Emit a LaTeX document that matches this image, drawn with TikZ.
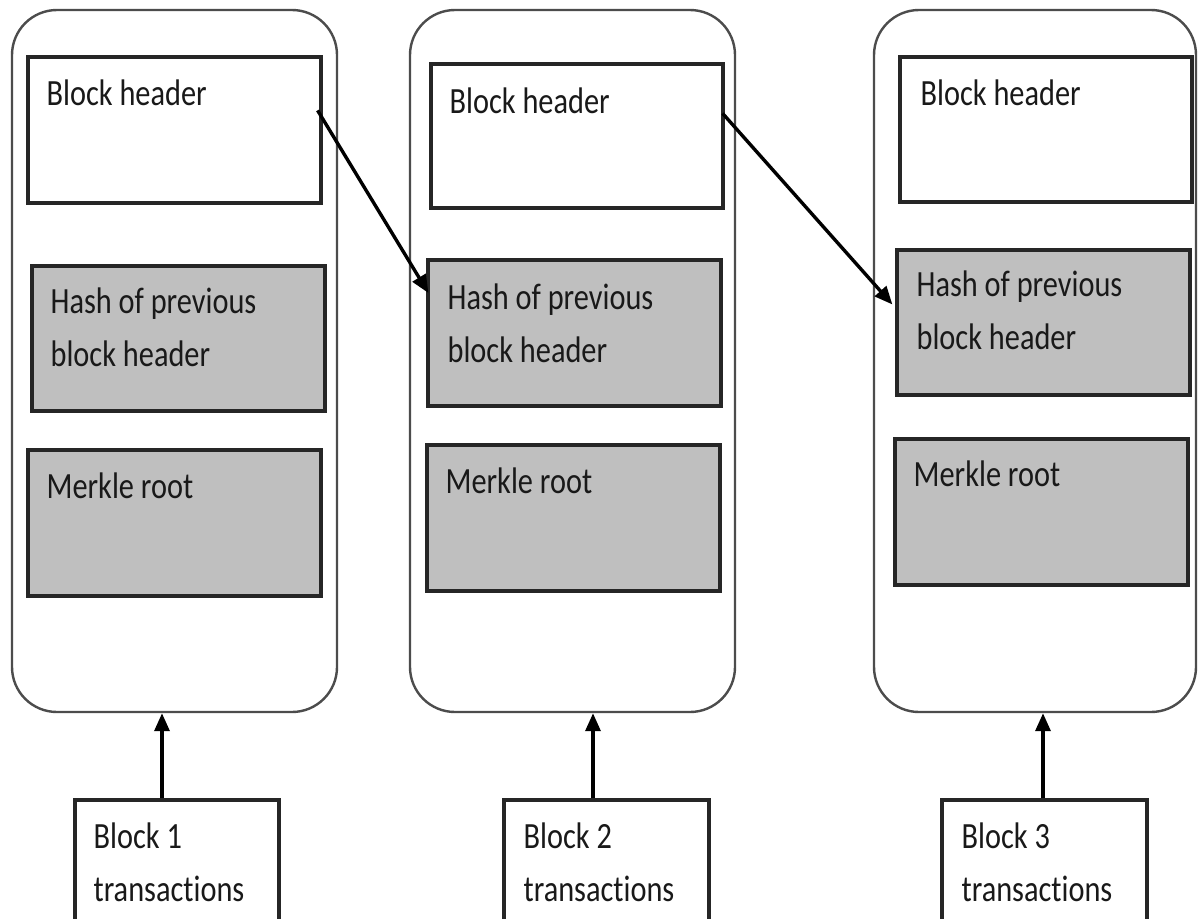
\documentclass[tikz,border=0pt]{standalone}
\usepackage{fontspec}
\usepackage{graphicx}
\setmainfont{Carlito}[Ligatures=CommonOff]
\usetikzlibrary{arrows.meta,fit}
\definecolor{boxgray}{RGB}{191,191,191}
\newcommand\sqz[1]{\scalebox{0.82}[1]{\begin{tabular}[t]{@{}l@{}}#1\end{tabular}}}
\tikzset{
  blockbox/.style={draw=black!70, line width=2.4pt, rounded corners=45pt, inner sep=0pt},
  hdrbox/.style={draw=black!85, line width=3.2pt, fill=white, inner sep=0pt},
  graybox/.style={hdrbox, fill=boxgray},
  lbl/.style={inner sep=0pt, anchor=base west, font=\fontsize{37}{53}\selectfont, text=black!90},
  link/.style={line width=3.4pt, draw=black, -{Triangle[length=18pt,width=15pt]}},
}
\begin{document}
\begin{tikzpicture}[x=1pt,y=-1pt]
\useasboundingbox (0,0) rectangle (1198,918);
\clip (0,0) rectangle (1198,918);
\fill[white] (0,0) rectangle (1198,918);

% outer blocks
\node[blockbox, fit={(12,10) (337,712)}] (b1) {};
\node[blockbox, fit={(410,10) (735,712)}] (b2) {};
\node[blockbox, fit={(874,10) (1196,712)}] (b3) {};

% block headers
\node[hdrbox, fit={(28,57) (321,203)}] (h1) {};
\node[hdrbox, fit={(431,64) (723,208)}] (h2) {};
\node[hdrbox, fit={(900,57) (1192,202)}] (h3) {};

% hash of previous
\node[graybox, fit={(32,266) (325,411)}] (p1) {};
\node[graybox, fit={(428,260) (721,406)}] (p2) {};
\node[graybox, fit={(897,250) (1190,395)}] (p3) {};

% merkle roots
\node[graybox, fit={(28,450) (321,596)}] (m1) {};
\node[graybox, fit={(427,445) (720,591)}] (m2) {};
\node[graybox, fit={(895,439) (1188,585)}] (m3) {};

% transactions
\node[hdrbox, fit={(75,800) (279,935)}] (t1) {};
\node[hdrbox, fit={(504,800) (709,935)}] (t2) {};
\node[hdrbox, fit={(942,800) (1147,935)}] (t3) {};

% labels
\node[lbl] (lh1) at ([shift={(20,50)}]h1.north west) {\sqz{Block header}};
\node[lbl] (lh2) at ([shift={(20,51)}]h2.north west) {\sqz{Block header}};
\node[lbl] (lh3) at ([shift={(22,50)}]h3.north west) {\sqz{Block header}};

\node[lbl] (lp1) at ([shift={(20,49)}]p1.north west) {\sqz{Hash of previous\\block header}};
\node[lbl] (lp2) at ([shift={(21,51)}]p2.north west) {\sqz{Hash of previous\\block header}};
\node[lbl] (lp3) at ([shift={(21,48)}]p3.north west) {\sqz{Hash of previous\\block header}};

\node[lbl] (lm1) at ([shift={(20,50)}]m1.north west) {\sqz{Merkle root}};
\node[lbl] (lm2) at ([shift={(20,50)}]m2.north west) {\sqz{Merkle root}};
\node[lbl] (lm3) at ([shift={(20,49)}]m3.north west) {\sqz{Merkle root}};

\node[lbl] (lt1) at ([shift={(20,50)}]t1.north west) {\sqz{Block 1\\transactions}};
\node[lbl] (lt2) at ([shift={(21,50)}]t2.north west) {\sqz{Block 2\\transactions}};
\node[lbl] (lt3) at ([shift={(21,50)}]t3.north west) {\sqz{Block 3\\transactions}};

% links between blocks
\draw[link] ([shift={(-5,55)}]h1.north east) -- ([shift={(2,-40)}]p2.west);
\draw[link] ([shift={(-2,51)}]h2.north east) -- ([shift={(-3,-18)}]p3.west);

% transactions to blocks
\draw[link] ([xshift=-15pt]t1.north) -- ([xshift=-15pt]t1.north |- b1.south);
\draw[link] ([xshift=-13.5pt]t2.north) -- ([xshift=-13.5pt]t2.north |- b2.south);
\draw[link] ([xshift=-1.5pt]t3.north) -- ([xshift=-1.5pt]t3.north |- b3.south);
\end{tikzpicture}
\end{document}
